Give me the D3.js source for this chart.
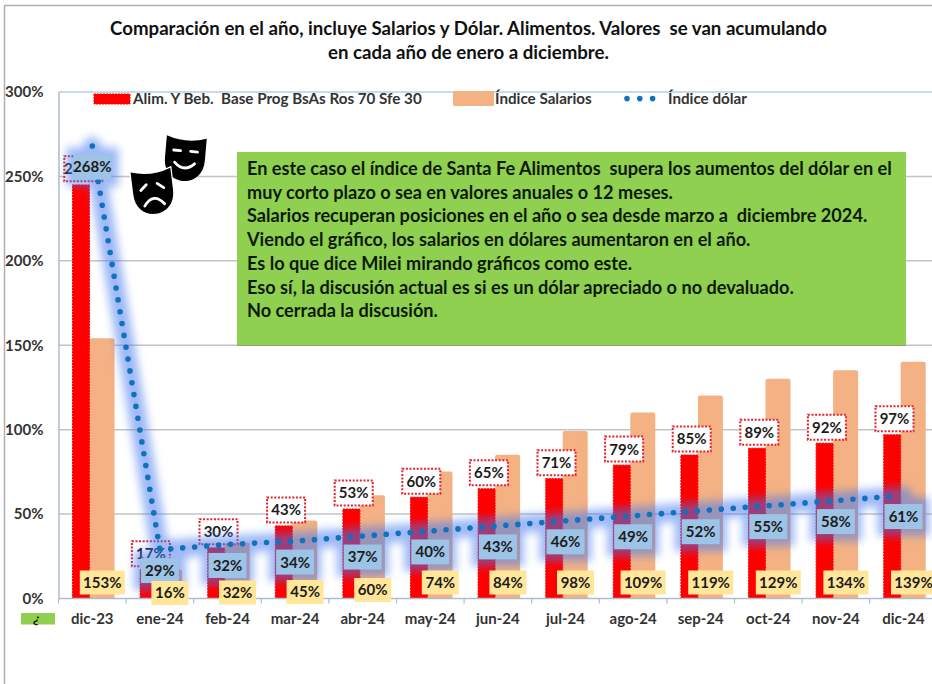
<!DOCTYPE html>
<html><head><meta charset="utf-8">
<script src="https://cdn.jsdelivr.net/npm/d3@7/dist/d3.min.js"></script>
<style>html,body{margin:0;padding:0;background:#fff}svg{display:block}text{font-family:Lato,sans-serif;font-weight:700}</style>
</head><body><div id="chart"></div>
<script>
const categories=["dic-23","ene-24","feb-24","mar-24","abr-24","may-24","jun-24","jul-24","ago-24","sep-24","oct-24","nov-24","dic-24"];
const alimentos=[245,17,30,43,53,60,65,71,79,85,89,92,97];
const salarios=[153,16,32,45,60,74,84,98,109,119,129,134,139];
const dolar=[268,29,32,34,37,40,43,46,49,52,55,58,61];
const yTicks=[0,50,100,150,200,250,300];
const titleLines=["Comparación en el año, incluye Salarios y Dólar. Alimentos. Valores\u00a0 se van acumulando","en cada año de enero a diciembre."];
const noteLines=["En este caso el índice de Santa Fe Alimentos\u00a0 supera los aumentos del dólar en el","muy corto plazo o sea en valores anuales o 12 meses.","Salarios recuperan posiciones en el año o sea desde marzo a\u00a0 diciembre 2024.","Viendo el gráfico, los salarios en dólares aumentaron en el año.","Es lo que dice Milei mirando gráficos como este.","Eso sí, la discusión actual es si es un dólar apreciado o no devaluado.","No cerrada la discusión."];
const legendNames=["Alim. Y Beb.\u00a0 Base Prog BsAs Ros 70 Sfe 30","Índice Salarios","Índice dólar"];

const W=932,H=684,L=58.5,B=598.5,T=92;
const ink="#1c1c1c";
const svg=d3.select("#chart").append("svg").attr("width",W).attr("height",H);
const x=d3.scaleBand().domain(categories).range([L,L+13*67.6]);
const y=d3.scaleLinear().domain([0,300]).range([B,T]);
const cx=d=>x(d)+x.bandwidth()/2;
const defs=svg.append("defs");
defs.append("filter").attr("id","glow").attr("x","-20%").attr("y","-20%").attr("width","140%").attr("height","140%")
  .append("feGaussianBlur").attr("stdDeviation",4);

// frame
svg.append("line").attr("x1",4.5).attr("x2",4.5).attr("y1",5).attr("y2",H).attr("stroke","#b0b0b0").attr("stroke-width",1.5);
svg.append("line").attr("x1",4).attr("x2",W).attr("y1",5.5).attr("y2",5.5).attr("stroke","#b0b0b0").attr("stroke-width",1.5);

// title
svg.append("g").selectAll("text").data(titleLines).join("text")
  .attr("x",468.5).attr("y",(d,i)=>35+i*24).attr("text-anchor","middle").attr("font-size",18.65).attr("fill","#111").text(d=>d);

// grid
svg.append("g").selectAll("line").data(yTicks.slice(1)).join("line")
  .attr("x1",L).attr("x2",W).attr("y1",d=>y(d)).attr("y2",d=>y(d))
  .attr("stroke",d=>d===300?"#b5d0e4":"#c4c4c4").attr("stroke-width",1.5);

// axes
const yAxis=svg.append("g").attr("transform",`translate(${L},0)`)
  .call(d3.axisLeft(y).tickValues(yTicks).tickSize(0).tickPadding(15).tickFormat(d=>d+"%"));
yAxis.select(".domain").attr("stroke","#aebccd").attr("stroke-width",1.5);
yAxis.selectAll("text").attr("font-size",15).attr("fill","#333").style("font-family","Lato");
const xAxis=svg.append("g").attr("transform",`translate(0,${B})`)
  .call(d3.axisBottom(x).tickSize(0).tickPadding(15));
xAxis.select(".domain").attr("stroke","#aebccd").attr("stroke-width",1.5);
xAxis.selectAll("text").attr("font-size",15).attr("fill","#333").style("font-family","Lato");

// bars
const redOff=14,redW=17,peachOff=31,peachW=25;
svg.append("g").selectAll("rect").data(categories).join("rect")
  .attr("x",d=>x(d)+peachOff+2).attr("width",peachW-4)
  .attr("y",(d,i)=>y(salarios[i])).attr("height",(d,i)=>B-y(salarios[i]))
  .attr("fill","#f4b183").attr("stroke","#f4b183").attr("stroke-width",4).attr("stroke-linejoin","round");
svg.append("g").selectAll("rect").data(categories).join("rect")
  .attr("x",d=>x(d)+redOff).attr("width",redW)
  .attr("y",(d,i)=>y(alimentos[i])).attr("height",(d,i)=>B-y(alimentos[i]))
  .attr("fill","#fe0000").attr("stroke","#fe0000").attr("stroke-width",1).attr("stroke-dasharray","2 1");

// baseline drawn again over the rounded bar strokes
svg.append("rect").attr("x",L).attr("y",B).attr("width",W-L).attr("height",4).attr("fill","#fff");
svg.append("line").attr("x1",L).attr("x2",W).attr("y1",B).attr("y2",B).attr("stroke","#aebccd").attr("stroke-width",1.5);
svg.append("g").selectAll("line").data(categories).join("line")
  .attr("x1",d=>x(d)).attr("x2",d=>x(d)).attr("y1",B).attr("y2",B+5).attr("stroke","#aebccd").attr("stroke-width",1.2);

// alimentos labels
const rw=38,rh=25;
const rx=d=>Math.max(L+19.5,cx(d)-9);
const gRed=svg.append("g").selectAll("g").data(categories).join("g")
  .attr("transform",(d,i)=>`translate(${rx(d)},${y(alimentos[i])-16})`);
gRed.append("rect").attr("x",-rw/2).attr("y",-rh/2).attr("width",rw).attr("height",rh)
  .attr("fill","#fff").attr("stroke","#e3222c").attr("stroke-width",2).attr("stroke-dasharray","2 1.6");
gRed.append("text").attr("text-anchor","middle").attr("dy",5.4).attr("font-size",15).attr("fill",ink).text((d,i)=>alimentos[i]+"%");

// dollar glow
const line=d3.line().x((d,i)=>cx(categories[i])).y(d=>y(d));
const bw=38,bh=25,bDy=21;
const glow=svg.append("g").attr("filter","url(#glow)").attr("opacity",.52);
glow.append("path").datum(dolar).attr("d",line).attr("fill","none").attr("stroke","#4478ee").attr("stroke-width",18).attr("stroke-linecap","round");
glow.selectAll("rect").data(categories).join("rect")
  .attr("x",d=>cx(d)-bw/2-7).attr("width",bw+14).attr("y",(d,i)=>y(dolar[i])+bDy-bh/2-7).attr("height",bh+14)
  .attr("fill","#4478ee");

// dollar line
const dot=svg.append("path").datum(dolar).attr("d",line).attr("fill","none")
  .attr("stroke","#1071bd").attr("stroke-width",5.6).attr("stroke-linecap","round");
const total=dot.node().getTotalLength();
const nDots=Math.floor((total-11)/12);
dot.attr("stroke-dasharray",Array(nDots).fill("0 12").join(" ")+" 0 2000");

// dollar labels
const gBlue=svg.append("g").selectAll("g").data(categories).join("g")
  .attr("transform",(d,i)=>`translate(${cx(d)},${y(dolar[i])+bDy})`);
gBlue.append("rect").attr("x",-bw/2).attr("y",-bh/2).attr("width",bw).attr("height",bh).attr("fill","#9dc3e6");
gBlue.append("text").attr("text-anchor","middle").attr("dy",5.4).attr("font-size",15).attr("fill",ink).text((d,i)=>dolar[i]+"%");

// salary labels
const lift=[0,10.5,10,9.5,7.5,0,0,0,0,0,0,0,0];
const gYel=svg.append("g").selectAll("g").data(categories).join("g")
  .attr("transform",(d,i)=>`translate(${cx(d)+10},${B-16+lift[i]})`);
gYel.append("rect").attr("x",(d,i)=>salarios[i]>=100?-22.5:-18.5).attr("width",(d,i)=>salarios[i]>=100?45:37)
  .attr("y",-12).attr("height",24).attr("fill","#ffe699");
gYel.append("text").attr("text-anchor","middle").attr("dy",5.4).attr("font-size",15).attr("fill",ink).text((d,i)=>salarios[i]+"%");

// note
svg.append("rect").attr("x",237).attr("y",152).attr("width",669).attr("height",193.5).attr("fill","#8fd050");
svg.append("line").attr("x1",237).attr("x2",906).attr("y1",345.5).attr("y2",345.5).attr("stroke","#8f9f80").attr("stroke-width",1);
svg.append("g").selectAll("text").data(noteLines).join("text")
  .attr("x",247).attr("y",(d,i)=>175+i*23.7).attr("font-size",18.15).attr("fill","#0e1a08").text(d=>d);

// legend
svg.append("rect").attr("x",94).attr("y",94).attr("width",36).attr("height",10).attr("fill","#fe0000").attr("stroke","#fe0000").attr("stroke-dasharray","2 1");
svg.append("rect").attr("x",453).attr("y",91).attr("width",41).attr("height",15).attr("rx",1.5).attr("fill","#f4b183");
svg.append("line").attr("x1",627).attr("x2",653).attr("y1",98.6).attr("y2",98.6).attr("stroke","#1071bd").attr("stroke-width",5.6).attr("stroke-linecap","round").attr("stroke-dasharray","0 12.8");
svg.append("g").selectAll("text").data(legendNames).join("text")
  .attr("x",(d,i)=>[133,495,668][i]).attr("y",103.5).attr("font-size",15.2).attr("fill","#333").text(d=>d);

// small key
svg.append("rect").attr("x",21).attr("y",613).attr("width",34).attr("height",11.5).attr("fill","#8fd050");
svg.append("text").attr("transform","translate(33,622) rotate(18)").attr("font-size",13).attr("fill","#111").text("¿");

// masks
const maskPath="M-20,-21 Q0,-14 20,-21 L20,1 C20,15 11,23 0,23 C-11,23 -20,15 -20,1 Z";
const happy=svg.append("g").attr("transform","translate(185,158) rotate(5)");
happy.append("path").attr("d",maskPath).attr("fill","#000");
happy.append("path").attr("d","M-12,-7 L-5,-7 M5,-7 L12,-7 M-10,5 Q0,15 10,5").attr("fill","none").attr("stroke","#fff").attr("stroke-width",2.8).attr("stroke-linecap","round");
const sad=svg.append("g").attr("transform","translate(153,191) rotate(-7)");
sad.append("path").attr("d",maskPath).attr("fill","#000").attr("stroke","#fff").attr("stroke-width",2.5).attr("paint-order","stroke");
sad.append("path").attr("d","M-12,-2 L-6,-7 M5,-7 L11,-2 M-10,14 Q0,1 10,14").attr("fill","none").attr("stroke","#fff").attr("stroke-width",2.8).attr("stroke-linecap","round");
</script></body></html>
